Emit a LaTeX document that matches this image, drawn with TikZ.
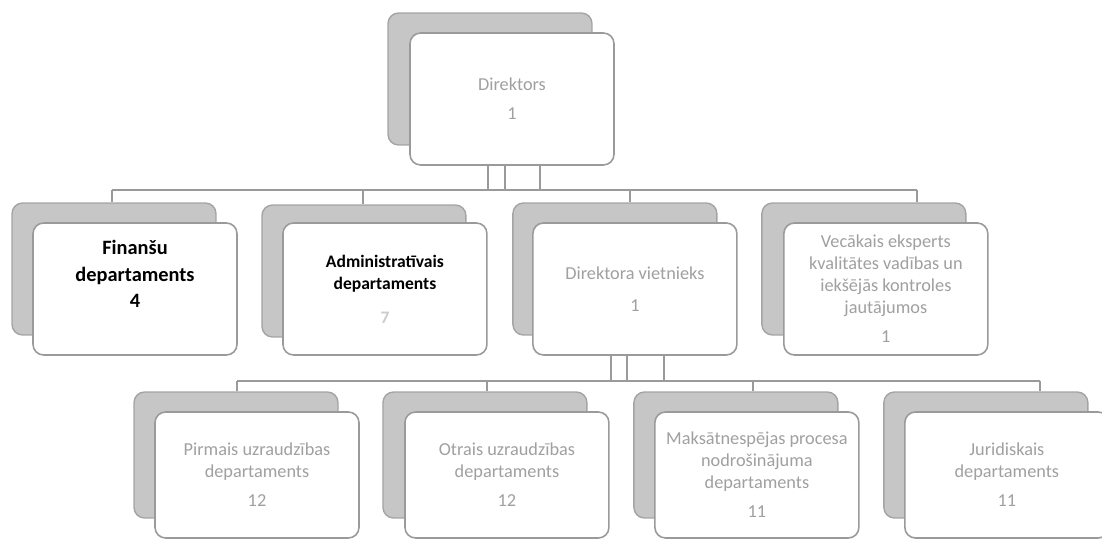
\documentclass[tikz,border=0pt]{standalone}
\usepackage{fontspec}
\setmainfont{Carlito}
\usetikzlibrary{positioning, backgrounds}
\definecolor{linegray}{HTML}{9A9A9A}
\definecolor{textgray}{HTML}{A0A0A0}
\definecolor{shadegray}{HTML}{C6C6C6}

\begin{document}
\begin{tikzpicture}[
    x=0.02cm, y=-0.02cm,
    node distance=5cm,
    on grid,
    box/.style={draw=linegray, line width=0.9pt, fill=white, rounded corners=6pt,
        minimum width=4.08cm, minimum height=2.64cm, align=center, inner sep=2pt,
        text=textgray, font=\fontsize{10.4}{12.5}\selectfont},
    lowbox/.style={box, minimum height=2.52cm},
    shade/.style={draw=linegray!90, line width=0.8pt, fill=shadegray, rounded corners=6pt,
        minimum width=4.08cm, minimum height=2.64cm},
    lowshade/.style={shade, minimum height=2.52cm},
    link/.style={draw=linegray, line width=0.9pt}
]
\useasboundingbox (0,0) rectangle (1102,540);

% Vadība
\node[box] (dir) at (512,99) {Direktors\\[4pt]1};

% Otrais līmenis
\node[box, text=black, font=\bfseries\fontsize{11.6}{15}\selectfont] (fin) at (135,289)
    {Finanšu\\departaments\\4\\[2pt]\mbox{}};
\node[box, right=of fin, text=black, font=\bfseries\fontsize{10}{13}\selectfont] (adm)
    {Administratīvais\\departaments\\[6pt]{\color{black!20}7}};
\node[box, right=of adm] (dv) {Direktora vietnieks\\[6pt]1};
\node[box, right=5.02cm of dv] (vec)
    {Vecākais eksperts\\kvalitātes vadības un\\iekšējās kontroles\\jautājumos\\[4pt]1};

% Trešais līmenis
\node[lowbox] (pir) at (257,475) {Pirmais uzraudzības\\departaments\\[4pt]12};
\node[lowbox, right=of pir] (otr) {Otrais uzraudzības\\departaments\\[4pt]12};
\node[lowbox, right=of otr] (mak) {Maksātnespējas procesa\\nodrošinājuma\\departaments\\[4pt]11};
\node[lowbox, right=of mak] (jur) {Juridiskais\\departaments\\[4pt]11};

% Ēnas aiz kastēm
\begin{scope}[on background layer]
\node[shade, above left=0.4cm and 0.44cm of dir] (dir-sh) {};
\node[shade, above left=0.4cm and 0.42cm of fin] (fin-sh) {};
\node[shade, above left=0.36cm and 0.42cm of adm] (adm-sh) {};
\node[shade, above left=0.4cm and 0.4cm of dv] (dv-sh) {};
\node[shade, above left=0.4cm and 0.44cm of vec] (vec-sh) {};
\node[lowshade, above left=0.4cm and 0.42cm of pir] (pir-sh) {};
\node[lowshade, above left=0.4cm and 0.44cm of otr] (otr-sh) {};
\node[lowshade, above left=0.4cm and 0.42cm of mak] (mak-sh) {};
\node[lowshade, above left=0.4cm and 0.42cm of jur] (jur-sh) {};
\end{scope}

% Savienojumi no direktora
\coordinate (d1) at (488,190);
\coordinate (d2) at (505,190);
\coordinate (d3) at (540,190);
\draw[link] (d1 |- dir.south) -- (d1);
\draw[link] (d2 |- dir.south) -- (d2);
\draw[link] (d3 |- dir.south) -- (d3);
\coordinate (bus-a) at (112,190);
\coordinate (bus-b) at (917,190);
\coordinate (t2) at (363,190);
\coordinate (t3) at (630,190);
\draw[link] (bus-a) -- (bus-b);
\draw[link] (bus-a) -- (bus-a |- fin-sh.north);
\draw[link] (t2) -- (t2 |- adm-sh.north);
\draw[link] (t3) -- (t3 |- dv-sh.north);
\draw[link] (bus-b) -- (bus-b |- vec-sh.north);

% Savienojumi no direktora vietnieka
\coordinate (v1) at (611,381);
\coordinate (v2) at (627,381);
\coordinate (v3) at (664,381);
\draw[link] (v1 |- dv.south) -- (v1);
\draw[link] (v2 |- dv.south) -- (v2);
\draw[link] (v3 |- dv.south) -- (v3);
\coordinate (low-a) at (237,381);
\coordinate (low-b) at (1040,381);
\coordinate (s2) at (487,381);
\coordinate (s3) at (753,381);
\draw[link] (low-a) -- (low-b);
\draw[link] (low-a) -- (low-a |- pir-sh.north);
\draw[link] (s2) -- (s2 |- otr-sh.north);
\draw[link] (s3) -- (s3 |- mak-sh.north);
\draw[link] (low-b) -- (low-b |- jur-sh.north);

\end{tikzpicture}
\end{document}
